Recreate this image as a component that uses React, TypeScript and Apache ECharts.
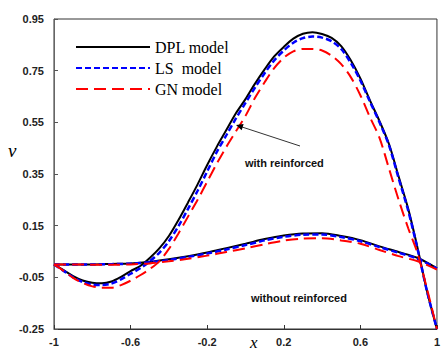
import React, { useEffect, useRef } from "react";
import * as echarts from "echarts";

// x positions
const xReinf = [-1, -0.95, -0.9, -0.85, -0.8, -0.75, -0.7, -0.65, -0.6, -0.55, -0.5, -0.45, -0.4, -0.35, -0.3, -0.25, -0.2, -0.15, -0.1, -0.05, 0, 0.05, 0.1, 0.15, 0.2, 0.25, 0.3, 0.35, 0.4, 0.45, 0.5, 0.55, 0.6, 0.65, 0.7, 0.75, 0.8, 0.85, 0.9, 0.95, 1];
const xPlain = [-1, -0.9, -0.8, -0.7, -0.6, -0.5, -0.4, -0.3, -0.2, -0.1, 0, 0.1, 0.2, 0.3, 0.4, 0.5, 0.6, 0.7, 0.8, 0.9, 1];

// with reinforced
const dplReinf = [0, -0.022, -0.045, -0.062, -0.071, -0.073, -0.066, -0.048, -0.026, -0.006, 0.025, 0.062, 0.11, 0.172, 0.24, 0.31, 0.385, 0.455, 0.52, 0.585, 0.64, 0.7, 0.755, 0.805, 0.842, 0.874, 0.893, 0.899, 0.892, 0.877, 0.845, 0.79, 0.72, 0.635, 0.555, 0.465, 0.34, 0.215, 0.06, -0.11, -0.25];
const lsReinf = [0, -0.025, -0.05, -0.068, -0.078, -0.08, -0.074, -0.058, -0.036, -0.015, 0.012, 0.045, 0.09, 0.148, 0.215, 0.285, 0.36, 0.435, 0.5, 0.565, 0.625, 0.685, 0.74, 0.79, 0.828, 0.858, 0.876, 0.882, 0.878, 0.864, 0.834, 0.78, 0.712, 0.63, 0.55, 0.46, 0.333, 0.208, 0.055, -0.11, -0.25];
const gnReinf = [0, -0.025, -0.052, -0.072, -0.085, -0.09, -0.09, -0.08, -0.063, -0.042, -0.018, 0.012, 0.06, 0.12, 0.185, 0.25, 0.32, 0.39, 0.455, 0.515, 0.575, 0.645, 0.705, 0.76, 0.8, 0.825, 0.834, 0.834, 0.828, 0.808, 0.775, 0.725, 0.655, 0.57, 0.49, 0.37, 0.25, 0.14, 0.04, -0.1, -0.25];

// without reinforced
const dplPlain = [0, 0, 0, 0.002, 0.004, 0.01, 0.02, 0.032, 0.046, 0.063, 0.08, 0.098, 0.112, 0.12, 0.121, 0.11, 0.094, 0.07, 0.048, 0.025, -0.015];
const lsPlain = [0, 0, 0, 0.001, 0.003, 0.008, 0.017, 0.029, 0.042, 0.058, 0.075, 0.093, 0.107, 0.115, 0.116, 0.106, 0.09, 0.067, 0.045, 0.022, -0.016];
const gnPlain = [0, 0, -0.001, -0.001, 0, 0.004, 0.012, 0.022, 0.034, 0.048, 0.062, 0.078, 0.092, 0.1, 0.101, 0.093, 0.08, 0.056, 0.032, 0.012, -0.02];

const seriesNames = ["DPL model", "LS  model", "GN model"];

const zip = (xs: number[], ys: number[]) => xs.map((x, i) => [x, ys[i]]);

export default function App() {
  const ref = useRef<HTMLDivElement>(null);
  useEffect(() => {
    if (!ref.current) return;
    const chart = echarts.init(ref.current, null, { renderer: "svg" });
    const styles = [
      { color: "#000000", width: 2, type: "solid" as any },
      { color: "#0000ff", width: 2.5, type: [6, 3] as any },
      { color: "#ff0000", width: 2, type: [12, 6] as any },
    ];
    const mk = (i: number, xs: number[], ys: number[]) => ({
      type: "line",
      name: seriesNames[i],
      data: zip(xs, ys),
      smooth: 0.3,
      symbol: "none",
      lineStyle: styles[i],
      itemStyle: { color: styles[i].color },
      z: 2 + i,
    });
    const tickFont = { fontFamily: "Liberation Sans, Arial, sans-serif", fontWeight: "bold" as any, fontSize: 11, color: "#222" };
    chart.setOption({
      animation: false,
      grid: { left: 54, right: 2, top: 19, bottom: 23, show: true, borderColor: "#333", borderWidth: 1 },
      legend: {
        orient: "vertical",
        left: 70,
        top: 34,
        itemWidth: 74,
        itemHeight: 16,
        itemGap: 5,
        data: seriesNames,
        itemStyle: { opacity: 0 },
        textStyle: { fontFamily: "Liberation Serif, Times New Roman, serif", fontSize: 16, color: "#000" },
      },
      xAxis: {
        type: "value",
        min: -1,
        max: 1,
        interval: 0.4,
        axisLine: { show: true, onZero: false, lineStyle: { color: "#333", width: 1 } },
        axisTick: { show: true, inside: true, length: 4, lineStyle: { color: "#333" } },
        axisLabel: { ...tickFont, margin: 7, formatter: (v: number) => String(Math.round(v * 10) / 10) },
        splitLine: { show: false },
      },
      yAxis: {
        type: "value",
        min: -0.25,
        max: 0.95,
        interval: 0.2,
        axisLine: { show: true, onZero: false, lineStyle: { color: "#666", width: 1 } },
        axisTick: { show: true, inside: true, length: 4, lineStyle: { color: "#555" } },
        axisLabel: { ...tickFont, margin: 10, formatter: (v: number) => v.toFixed(2) },
        splitLine: { show: false },
      },
      graphic: [
        { type: "text", left: 8, top: 141, style: { text: "v", fontFamily: "Liberation Serif, Times New Roman, serif", fontStyle: "italic", fontSize: 19, fill: "#000" } },
        { type: "text", left: 250, top: 334, style: { text: "x", fontFamily: "Liberation Serif, Times New Roman, serif", fontStyle: "italic", fontSize: 17, fill: "#000" } },
        { type: "text", left: 245, top: 157, style: { text: "with reinforced", fontFamily: "Liberation Sans, Arial, sans-serif", fontWeight: "bold", fontSize: 11, fill: "#111" } },
        { type: "text", left: 251, top: 292, style: { text: "without reinforced", fontFamily: "Liberation Sans, Arial, sans-serif", fontWeight: "bold", fontSize: 11, fill: "#111" } },
        { type: "line", shape: { x1: 300, y1: 146, x2: 239, y2: 126 }, style: { stroke: "#333", lineWidth: 1 }, z: 10 },
        { type: "polygon", shape: { points: [[236, 125], [243.6, 124.0], [241.7, 130.3]] }, style: { fill: "#000" }, z: 10 },
      ],
      series: [
        mk(0, xReinf, dplReinf),
        mk(0, xPlain, dplPlain),
        mk(1, xReinf, lsReinf),
        mk(1, xPlain, lsPlain),
        mk(2, xReinf, gnReinf),
        mk(2, xPlain, gnPlain),
      ],
    });
    return () => chart.dispose();
  }, []);
  return <div ref={ref} style={{ width: 443, height: 352, position: "absolute", left: 0, top: 0 }} />;
}
